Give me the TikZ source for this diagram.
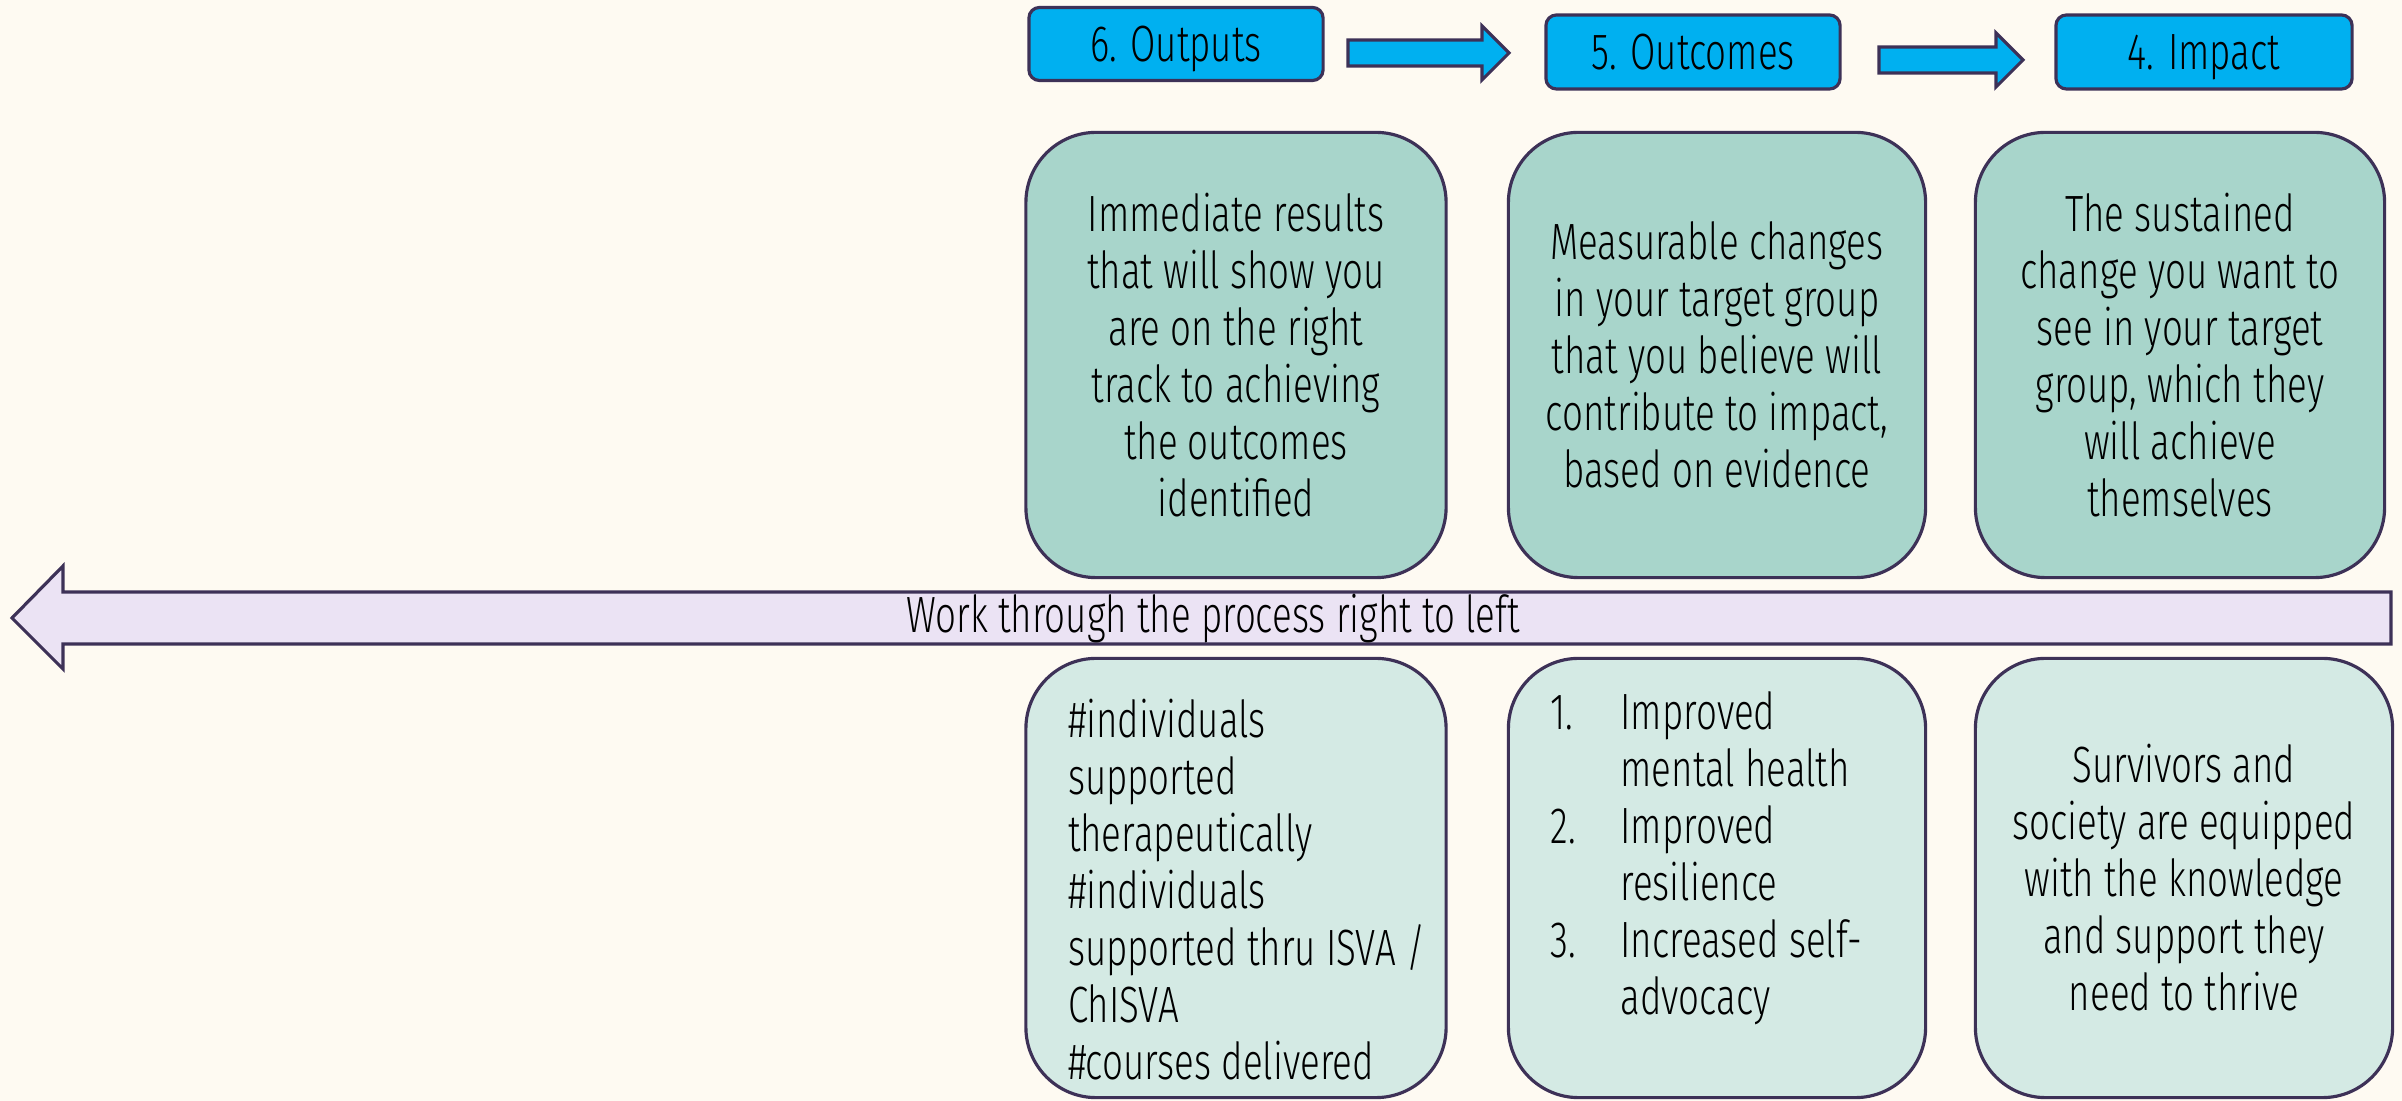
\documentclass[tikz,border=0pt]{standalone}
\usepackage{fontspec}
\setmainfont{Fira Sans}[UprightFont=* Light, FakeStretch=0.72]
\usetikzlibrary{positioning}
\definecolor{cream}{HTML}{FEFAF2}
\definecolor{hdrblue}{HTML}{00B0F0}
\definecolor{edge}{HTML}{3D3157}
\definecolor{tealdark}{HTML}{A8D5CB}
\definecolor{teallight}{HTML}{D4EAE4}
\definecolor{lilac}{HTML}{EBE3F4}
\tikzset{
	txt/.style={font=\fontsize{14.5}{16.2}\selectfont},
	hdr/.style={txt, draw=edge, fill=hdrblue, line width=0.9pt, rounded corners=3pt, minimum width=2.94cm, minimum height=0.73cm, text height=10pt, text depth=0pt},
	topbox/.style={txt, draw=edge, fill=tealdark, line width=0.9pt, rounded corners=20pt, align=center, minimum height=4.45cm},
	botbox/.style={topbox, fill=teallight, minimum height=4.39cm},
	blockarrow/.style={draw=edge, fill=hdrblue, line width=0.9pt},
	bigarrow/.style={draw=edge, fill=lilac, line width=0.9pt}
}
\def\rightblock[#1](#2:#3:#4){\draw[#1] (#2,#4-13) -- (#3-27,#4-13) -- (#3-27,#4-27) -- (#3,#4) -- (#3-27,#4+27) -- (#3-27,#4+13) -- (#2,#4+13) -- cycle;}

\begin{document}
\begin{tikzpicture}[x=0.01cm, y=-0.01cm]
		%%%%% START %%%%%
		\fill[cream] (0,0) rectangle (2402,1101);
		\useasboundingbox (0,0) rectangle (2402,1101);
		
		\node[hdr] (hdrOut) at (1176,44) {6. Outputs};
		\node[hdr, minimum height=0.74cm] (hdrOutc) at (1693,52) {5. Outcomes};
		\node[hdr, minimum width=2.96cm, minimum height=0.74cm] (hdrImp) at (2204,52) {4. Impact};
		\rightblock[blockarrow](1348:1509:53)
		\rightblock[blockarrow](1879:2023:60)
		
		\node[topbox, minimum width=4.2cm] (outTop) at (1236,355) {Immediate results\\that will show you\\are on the right\\track to achieving\\the outcomes\\identified};
		\node[topbox, minimum width=4.17cm] (outcTop) at (1717,355) {Measurable changes\\in your target group\\that you believe will\\contribute to impact,\\based on evidence};
		\node[topbox, minimum width=4.09cm] (impTop) at (2180,355) {The sustained\\change you want to\\see in your target\\group, which they\\will achieve\\themselves};
		
		\draw[bigarrow] (2391,592) -- (63,592) -- (63,566) -- (12,618) -- (63,669) -- (63,644) -- (2391,644) -- cycle;
		\node[txt] (flowlbl) at (1213,619) {Work through the process right to left};
		
		\node[botbox, minimum width=4.2cm] (outBot) at (1236,878) {};
		\node[txt, align=left, inner sep=0pt, below right=0.42cm and 0.43cm of outBot.north west] (outList) {\#individuals\\supported\\therapeutically\\\#individuals\\supported thru ISVA /\\ChISVA\\\#courses delivered};
		
		\node[botbox, minimum width=4.17cm] (outcBot) at (1717,878) {};
		\node[txt, inner sep=0pt, below right=0.32cm and 0.43cm of outcBot.north west] (outcList) {%
			\begin{tabular}{@{}p{0.7cm}@{}l@{}}
				1. & Improved\\ & mental health\\
				2. & Improved\\ & resilience\\
				3. & Increased self-\\ & advocacy
			\end{tabular}};
		
		\node[botbox, minimum width=4.17cm] (impBot) at (2184,878) {Survivors and\\society are equipped\\with the knowledge\\and support they\\need to thrive};
		%%%%% END %%%%%
\end{tikzpicture}
\end{document}
